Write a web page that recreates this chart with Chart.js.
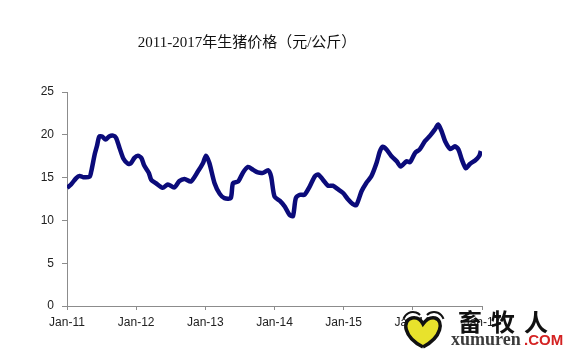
<!DOCTYPE html>
<html>
<head>
<meta charset="utf-8">
<script src="https://cdn.jsdelivr.net/npm/chart.js@4/dist/chart.umd.min.js"></script>
<style>
  html, body { margin: 0; padding: 0; background: #fff; }
  #wrap { width: 575px; height: 352px; position: relative; }
</style>
</head>
<body>
<div id="wrap"><canvas id="priceChart"></canvas></div>
<script>
// Data: months since Jan-11 and the hog price (yuan/kg)
const months = [0,0.7,1.6,2.2,2.8,3.9,4.2,4.8,5.2,5.6,6.1,6.7,7.3,8.0,8.5,9.1,9.8,10.6,11.1,11.7,
  12.3,12.9,13.4,14.2,14.6,15.4,16.6,17.5,18.6,19.5,20.4,21.5,22.7,23.6,24.1,24.7,25.6,26.5,27.3,28.4,
  28.8,29.7,30.5,31.4,32.3,33.1,34.0,34.9,35.4,36.0,36.9,37.8,38.6,39.2,39.7,40.4,41.2,42.1,43.0,43.6,
  44.4,45.3,46.1,47.0,47.9,48.7,49.6,50.2,51.1,51.9,52.8,53.7,54.3,54.8,55.4,56.3,57.2,57.9,58.9,59.5,
  60.4,61.2,62.1,63.0,63.8,64.4,65.0,65.6,66.5,67.3,67.9,68.5,69.2,69.9,70.8,71.5,71.8];
const prices = [13.8,14.2,14.95,15.2,15.05,15.1,15.7,17.7,18.7,19.8,19.8,19.45,19.8,19.9,19.65,18.5,17.2,16.6,16.7,17.3,
  17.55,17.3,16.4,15.55,14.75,14.35,13.8,14.2,13.85,14.6,14.85,14.55,15.7,16.7,17.55,16.7,14.35,13.1,12.6,12.6,
  14.35,14.55,15.55,16.25,15.9,15.6,15.55,15.85,15.15,12.8,12.3,11.6,10.65,10.5,12.6,13.0,13.0,13.95,15.15,15.35,
  14.75,14.05,14.05,13.65,13.2,12.5,11.9,11.8,13.4,14.35,15.15,16.7,18.1,18.6,18.3,17.5,16.9,16.3,16.9,16.8,
  17.9,18.3,19.25,19.9,20.6,21.2,20.4,19.25,18.35,18.65,18.3,17.1,16.1,16.6,17.0,17.5,18.1];
const xTickLabels = ["Jan-11", "Jan-12", "Jan-13", "Jan-14", "Jan-15", "Jan-16", "Jan-17"];
const yTicks      = [0, 5, 10, 15, 20, 25];
const titleText   = "2011-2017年生猪价格（元/公斤）";

const AXIS_COLOR = "#8c8c8c";
const TEXT_COLOR = "#222";

// title + site watermark drawn on top of the canvas
const overlayPlugin = {
  id: "overlay",
  afterDraw(chart) {
    const ctx = chart.ctx;
    ctx.save();
    ctx.fillStyle = "#111";
    ctx.font = "15px 'Liberation Serif', 'Noto Sans CJK SC'";
    ctx.textAlign = "center";
    ctx.textBaseline = "middle";
    ctx.fillText(titleText, 247, 43);

    //heart logo
    ctx.beginPath();
    ctx.moveTo(423, 347);
    ctx.bezierCurveTo(403, 337, 402, 320, 412, 318);
    ctx.bezierCurveTo(418, 317, 421, 320, 423, 324);
    ctx.bezierCurveTo(426, 320, 430, 317, 435, 318);
    ctx.bezierCurveTo(444, 321, 442, 337, 423, 347);
    ctx.fillStyle = "#e8e22c";
    ctx.fill();
    ctx.lineWidth = 3.5;
    ctx.strokeStyle = "#111";
    ctx.stroke();
    ctx.lineWidth = 2;
    ctx.beginPath();
    ctx.arc(413, 322, 10, Math.PI * 1.1, Math.PI * 1.75);
    ctx.stroke();
    ctx.beginPath();
    ctx.arc(434, 322, 10, Math.PI * 1.25, Math.PI * 1.9);
    ctx.stroke();

    //logo text
    ctx.textAlign = "left";
    ctx.textBaseline = "alphabetic";
    ctx.fillStyle = "#111";
    ctx.font = "bold 24px 'Noto Sans CJK SC'";
    ["畜", "牧", "人"].forEach((ch, i) => ctx.fillText(ch, 458 + i * 33, 331));
    ctx.font = "bold 18px 'Liberation Serif'";
    ctx.fillStyle = "#3a3a3a";
    ctx.fillText("xumuren", 451, 345);
    ctx.fillStyle = "#d42222";
    ctx.font = "bold 15px 'Liberation Sans'";
    ctx.fillText(".COM", 524, 345);
    ctx.restore();
  }
};

new Chart(document.getElementById("priceChart"), {
  type: "line",
  data: {
    datasets: [{
      data: months.map((m, i) => ({ x: m, y: prices[i] })),
      borderColor: "#0b0b7a",
      borderWidth: 4.5,
      pointRadius: 0,
      tension: 0.25,
      fill: false,
    }],
  },
  options: {
    responsive: true,
    maintainAspectRatio: false,
    animation: false,
    layout: { padding: { left: 0, right: 93, top: 92, bottom: 0 } },
    plugins: {
      legend: { display: false },
      tooltip: { enabled: false },
    },
    scales: {
      x: {
        type: "linear",
        min: 0,
        max: 72,
        afterBuildTicks: (axis) => { axis.ticks = xTickLabels.map((_, i) => ({ value: i * 12 })); },
        afterFit: (axis) => { axis.height = 46; },
        border: { color: AXIS_COLOR, width: 1 },
        grid: { drawOnChartArea: false, color: AXIS_COLOR, tickLength: 4 },
        ticks: {
          color: TEXT_COLOR,
          font: { family: "'Liberation Sans', Arial", size: 12 },
          padding: 5,
          maxRotation: 0,
          autoSkip: false,
          callback: (v) => xTickLabels[v / 12],
        },
      },
      y: {
        min: 0,
        max: 25,
        afterBuildTicks: (axis) => { axis.ticks = yTicks.map((v) => ({ value: v })); },
        afterFit: (axis) => { axis.width = 67; },
        border: { color: AXIS_COLOR, width: 1 },
        grid: { drawOnChartArea: false, color: AXIS_COLOR, tickLength: 5 },
        ticks: {
          color: TEXT_COLOR,
          font: { family: "'Liberation Sans', Arial", size: 12 },
          padding: 8,
        },
      },
    },
  },
  plugins: [overlayPlugin],
});
</script>
</body>
</html>
